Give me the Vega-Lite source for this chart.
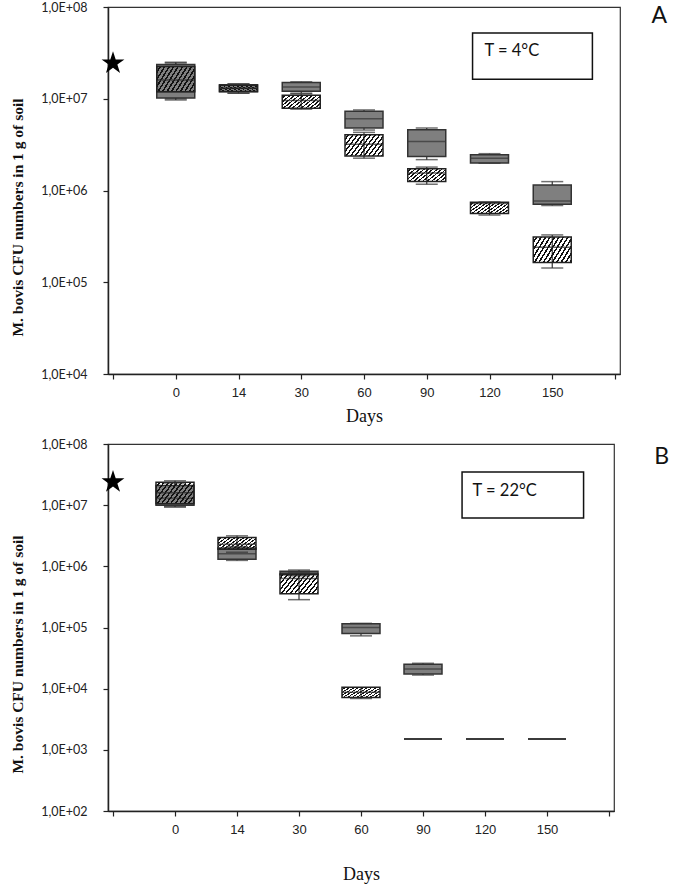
{
  "$schema": "https://vega.github.io/schema/vega-lite/v6.json",
  "padding": {"left": 10, "top": 0, "right": 0, "bottom": 0},
  "background": "white",
  "spacing": 11,
  "config": {
    "view": {"stroke": "#333333", "strokeWidth": 1.2},
    "axis": {"grid": false, "domainColor": "#222222", "domainWidth": 1.5, "tickColor": "#222222", "tickWidth": 1.2, "tickSize": 5, "labelColor": "#222222", "titleColor": "#111111"},
    "axisX": {"labelFont": "Liberation Sans", "labelFontSize": 13, "labelPadding": 7, "titleFont": "Liberation Serif", "titleFontSize": 18, "titleFontWeight": "normal", "titlePadding": 8, "labelFlush": false, "labelOverlap": false},
    "axisY": {"labelFont": "Lato", "labelFontSize": 12.5, "labelPadding": 16, "titleFont": "Liberation Serif", "titleFontSize": 15.5, "titleFontWeight": "bold", "titlePadding": 15, "titleY": 210, "labelOverlap": false}
  },
  "datasets": {
    "boxA": [
      {"pos": 0, "day": "0", "series": "solid", "min": 9700000, "q1": 10200000, "med": 11900000, "q3": 23600000, "max": 25000000},
      {"pos": 0, "day": "0", "series": "hatched", "min": 10000000, "q1": 11900000, "med": 16000000, "q3": 22400000, "max": 24500000},
      {"pos": 1, "day": "14", "series": "solid", "min": 11500000, "q1": 11900000, "med": 13000000, "q3": 14200000, "max": 14500000},
      {"pos": 1, "day": "14", "series": "hatched", "min": 11500000, "q1": 12000000, "med": 13000000, "q3": 14000000, "max": 14500000},
      {"pos": 2, "day": "30", "series": "solid", "min": 11500000, "q1": 12100000, "med": 13400000, "q3": 15000000, "max": 15300000},
      {"pos": 2, "day": "30", "series": "hatched", "min": 7700000, "q1": 7900000, "med": 9600000, "q3": 10900000, "max": 11300000},
      {"pos": 3, "day": "60", "series": "solid", "min": 4560000, "q1": 4800000, "med": 6070000, "q3": 7300000, "max": 7550000},
      {"pos": 3, "day": "60", "series": "hatched", "min": 2250000, "q1": 2370000, "med": 3200000, "q3": 4060000, "max": 4300000},
      {"pos": 4, "day": "90", "series": "solid", "min": 2170000, "q1": 2350000, "med": 3430000, "q3": 4600000, "max": 4800000},
      {"pos": 4, "day": "90", "series": "hatched", "min": 1170000, "q1": 1250000, "med": 1550000, "q3": 1730000, "max": 1800000},
      {"pos": 5, "day": "120", "series": "solid", "min": 1980000, "q1": 2000000, "med": 2250000, "q3": 2450000, "max": 2520000},
      {"pos": 5, "day": "120", "series": "hatched", "min": 540000, "q1": 560000, "med": 720000, "q3": 745000, "max": 750000},
      {"pos": 6, "day": "150", "series": "solid", "min": 686000, "q1": 710000, "med": 770000, "q3": 1150000, "max": 1250000},
      {"pos": 6, "day": "150", "series": "hatched", "min": 143000, "q1": 164000, "med": 240000, "q3": 312000, "max": 328000}
    ],
    "boxB": [
      {"pos": 0, "day": "0", "series": "solid", "min": 9300000, "q1": 10000000, "med": 13000000, "q3": 21000000, "max": 23000000},
      {"pos": 0, "day": "0", "series": "hatched", "min": 9500000, "q1": 10500000, "med": 16000000, "q3": 23600000, "max": 25000000},
      {"pos": 1, "day": "14", "series": "solid", "min": 1250000, "q1": 1300000, "med": 1600000, "q3": 2000000, "max": 2100000},
      {"pos": 1, "day": "14", "series": "hatched", "min": 1700000, "q1": 1900000, "med": 2300000, "q3": 2950000, "max": 3150000},
      {"pos": 2, "day": "30", "series": "solid", "min": 700000, "q1": 730000, "med": 780000, "q3": 830000, "max": 870000},
      {"pos": 2, "day": "30", "series": "hatched", "min": 285000, "q1": 357000, "med": 630000, "q3": 750000, "max": 800000},
      {"pos": 3, "day": "60", "series": "solid", "min": 73000, "q1": 80000, "med": 100000, "q3": 115000, "max": 117000},
      {"pos": 3, "day": "60", "series": "hatched", "min": 6900, "q1": 7200, "med": 8700, "q3": 10500, "max": 10500},
      {"pos": 4, "day": "90", "series": "solid", "min": 16700, "q1": 17400, "med": 21000, "q3": 25000, "max": 26000},
      {"pos": 4, "day": "90", "series": "hatched", "min": 1500, "q1": 1500, "med": 1500, "q3": 1500, "max": 1500},
      {"pos": 5, "day": "120", "series": "hatched", "min": 1500, "q1": 1500, "med": 1500, "q3": 1500, "max": 1500},
      {"pos": 6, "day": "150", "series": "hatched", "min": 1500, "q1": 1500, "med": 1500, "q3": 1500, "max": 1500}
    ]
  },
  "vconcat": [
    {
      "width": 512,
      "height": 367,
      "layer": [
        {
          "data": {"name": "boxA"},
          "mark": {"type": "rule", "color": "#333333", "strokeWidth": 1.2},
          "encoding": {
            "x": {"field": "pos", "type": "quantitative", "scale": {"domain": [-1, 7], "nice": false, "zero": false},
                  "axis": {"title": "Days", "values": [-1, 0, 1, 2, 3, 4, 5, 6, 7], "labelExpr": "datum.value < 0 || datum.value > 6 ? '' : ['0','14','30','60','90','120','150'][datum.value]"}},
            "y": {"field": "min", "type": "quantitative", "scale": {"type": "log", "domain": [10000, 100000000], "nice": false},
                  "axis": {"title": "M. bovis  CFU numbers in 1  g of soil", "values": [10000, 100000, 1000000, 10000000, 100000000], "labelExpr": "'1,0E+0' + round(log(datum.value)/LN10)"}},
            "y2": {"field": "max"}
          }
        },
        {
          "data": {"name": "boxA"},
          "transform": [{"filter": "datum.series == 'solid'"}],
          "mark": {"type": "bar", "width": 38, "fill": "#7f7f7f", "stroke": "#333333", "strokeWidth": 1.5},
          "encoding": {
            "x": {"field": "pos", "type": "quantitative", "scale": {"domain": [-1, 7], "nice": false, "zero": false},
                  "axis": {"title": "Days", "values": [-1, 0, 1, 2, 3, 4, 5, 6, 7], "labelExpr": "datum.value < 0 || datum.value > 6 ? '' : ['0','14','30','60','90','120','150'][datum.value]"}},
            "y": {"field": "q1", "type": "quantitative", "scale": {"type": "log", "domain": [10000, 100000000], "nice": false},
                  "axis": {"title": "M. bovis  CFU numbers in 1  g of soil", "values": [10000, 100000, 1000000, 10000000, 100000000], "labelExpr": "'1,0E+0' + round(log(datum.value)/LN10)"}},
            "y2": {"field": "q3"}
          }
        },
        {
          "data": {"name": "boxA"},
          "transform": [{"filter": "datum.series == 'solid'"}],
          "mark": {"type": "tick", "orient": "horizontal", "size": 38, "thickness": 1.5, "color": "#333333"},
          "encoding": {
            "x": {"field": "pos", "type": "quantitative", "scale": {"domain": [-1, 7], "nice": false, "zero": false},
                  "axis": {"title": "Days", "values": [-1, 0, 1, 2, 3, 4, 5, 6, 7], "labelExpr": "datum.value < 0 || datum.value > 6 ? '' : ['0','14','30','60','90','120','150'][datum.value]"}},
            "y": {"field": "med", "type": "quantitative", "scale": {"type": "log", "domain": [10000, 100000000], "nice": false},
                  "axis": {"title": "M. bovis  CFU numbers in 1  g of soil", "values": [10000, 100000, 1000000, 10000000, 100000000], "labelExpr": "'1,0E+0' + round(log(datum.value)/LN10)"}}
          }
        },
        {
          "data": {"name": "boxA"},
          "transform": [{"filter": "datum.series == 'hatched'"}],
          "mark": {"type": "bar", "width": 38, "stroke": "#222222", "strokeWidth": 1.5,
                   "fill": {"gradient": "linear", "x1": 0, "y1": 0, "x2": 1.2, "y2": 0.5, "stops": [
                     {"offset": 0, "color": "transparent"}, {"offset": 0.05, "color": "transparent"}, {"offset": 0.05, "color": "#111111"}, {"offset": 0.0833, "color": "#111111"},
                     {"offset": 0.0833, "color": "transparent"}, {"offset": 0.1333, "color": "transparent"}, {"offset": 0.1333, "color": "#111111"}, {"offset": 0.1667, "color": "#111111"},
                     {"offset": 0.1667, "color": "transparent"}, {"offset": 0.2167, "color": "transparent"}, {"offset": 0.2167, "color": "#111111"}, {"offset": 0.25, "color": "#111111"},
                     {"offset": 0.25, "color": "transparent"}, {"offset": 0.3, "color": "transparent"}, {"offset": 0.3, "color": "#111111"}, {"offset": 0.3333, "color": "#111111"},
                     {"offset": 0.3333, "color": "transparent"}, {"offset": 0.3833, "color": "transparent"}, {"offset": 0.3833, "color": "#111111"}, {"offset": 0.4167, "color": "#111111"},
                     {"offset": 0.4167, "color": "transparent"}, {"offset": 0.4667, "color": "transparent"}, {"offset": 0.4667, "color": "#111111"}, {"offset": 0.5, "color": "#111111"},
                     {"offset": 0.5, "color": "transparent"}, {"offset": 0.55, "color": "transparent"}, {"offset": 0.55, "color": "#111111"}, {"offset": 0.5833, "color": "#111111"},
                     {"offset": 0.5833, "color": "transparent"}, {"offset": 0.6333, "color": "transparent"}, {"offset": 0.6333, "color": "#111111"}, {"offset": 0.6667, "color": "#111111"},
                     {"offset": 0.6667, "color": "transparent"}, {"offset": 0.7167, "color": "transparent"}, {"offset": 0.7167, "color": "#111111"}, {"offset": 0.75, "color": "#111111"},
                     {"offset": 0.75, "color": "transparent"}, {"offset": 0.8, "color": "transparent"}, {"offset": 0.8, "color": "#111111"}, {"offset": 0.8333, "color": "#111111"},
                     {"offset": 0.8333, "color": "transparent"}, {"offset": 0.8833, "color": "transparent"}, {"offset": 0.8833, "color": "#111111"}, {"offset": 0.9167, "color": "#111111"},
                     {"offset": 0.9167, "color": "transparent"}, {"offset": 0.9667, "color": "transparent"}, {"offset": 0.9667, "color": "#111111"}, {"offset": 1, "color": "#111111"}
                   ]}},
          "encoding": {
            "x": {"field": "pos", "type": "quantitative", "scale": {"domain": [-1, 7], "nice": false, "zero": false},
                  "axis": {"title": "Days", "values": [-1, 0, 1, 2, 3, 4, 5, 6, 7], "labelExpr": "datum.value < 0 || datum.value > 6 ? '' : ['0','14','30','60','90','120','150'][datum.value]"}},
            "y": {"field": "q1", "type": "quantitative", "scale": {"type": "log", "domain": [10000, 100000000], "nice": false},
                  "axis": {"title": "M. bovis  CFU numbers in 1  g of soil", "values": [10000, 100000, 1000000, 10000000, 100000000], "labelExpr": "'1,0E+0' + round(log(datum.value)/LN10)"}},
            "y2": {"field": "q3"}
          }
        },
        {
          "data": {"name": "boxA"},
          "transform": [{"filter": "datum.series == 'hatched'"}],
          "mark": {"type": "tick", "orient": "horizontal", "size": 38, "thickness": 1.5, "color": "#222222"},
          "encoding": {
            "x": {"field": "pos", "type": "quantitative", "scale": {"domain": [-1, 7], "nice": false, "zero": false},
                  "axis": {"title": "Days", "values": [-1, 0, 1, 2, 3, 4, 5, 6, 7], "labelExpr": "datum.value < 0 || datum.value > 6 ? '' : ['0','14','30','60','90','120','150'][datum.value]"}},
            "y": {"field": "med", "type": "quantitative", "scale": {"type": "log", "domain": [10000, 100000000], "nice": false},
                  "axis": {"title": "M. bovis  CFU numbers in 1  g of soil", "values": [10000, 100000, 1000000, 10000000, 100000000], "labelExpr": "'1,0E+0' + round(log(datum.value)/LN10)"}}
          }
        },
        {
          "data": {"name": "boxA"},
          "mark": {"type": "tick", "orient": "horizontal", "size": 22, "thickness": 1.5, "color": "#333333"},
          "encoding": {
            "x": {"field": "pos", "type": "quantitative", "scale": {"domain": [-1, 7], "nice": false, "zero": false},
                  "axis": {"title": "Days", "values": [-1, 0, 1, 2, 3, 4, 5, 6, 7], "labelExpr": "datum.value < 0 || datum.value > 6 ? '' : ['0','14','30','60','90','120','150'][datum.value]"}},
            "y": {"field": "min", "type": "quantitative", "scale": {"type": "log", "domain": [10000, 100000000], "nice": false},
                  "axis": {"title": "M. bovis  CFU numbers in 1  g of soil", "values": [10000, 100000, 1000000, 10000000, 100000000], "labelExpr": "'1,0E+0' + round(log(datum.value)/LN10)"}}
          }
        },
        {
          "data": {"name": "boxA"},
          "mark": {"type": "tick", "orient": "horizontal", "size": 22, "thickness": 1.5, "color": "#333333"},
          "encoding": {
            "x": {"field": "pos", "type": "quantitative", "scale": {"domain": [-1, 7], "nice": false, "zero": false},
                  "axis": {"title": "Days", "values": [-1, 0, 1, 2, 3, 4, 5, 6, 7], "labelExpr": "datum.value < 0 || datum.value > 6 ? '' : ['0','14','30','60','90','120','150'][datum.value]"}},
            "y": {"field": "max", "type": "quantitative", "scale": {"type": "log", "domain": [10000, 100000000], "nice": false},
                  "axis": {"title": "M. bovis  CFU numbers in 1  g of soil", "values": [10000, 100000, 1000000, 10000000, 100000000], "labelExpr": "'1,0E+0' + round(log(datum.value)/LN10)"}}
          }
        },
        {
          "data": {"values": [{"pos": -1, "value": 24400000}]},
          "mark": {"type": "point", "shape": "M0,-1L0.2245,-0.309L0.9511,-0.309L0.3633,0.118L0.5878,0.809L0,0.382L-0.5878,0.809L-0.3633,0.118L-0.9511,-0.309L-0.2245,-0.309Z", "filled": true, "color": "#000000", "opacity": 1, "size": 576},
          "encoding": {
            "x": {"field": "pos", "type": "quantitative", "scale": {"domain": [-1, 7], "nice": false, "zero": false},
                  "axis": {"title": "Days", "values": [-1, 0, 1, 2, 3, 4, 5, 6, 7], "labelExpr": "datum.value < 0 || datum.value > 6 ? '' : ['0','14','30','60','90','120','150'][datum.value]"}},
            "y": {"field": "value", "type": "quantitative", "scale": {"type": "log", "domain": [10000, 100000000], "nice": false},
                  "axis": {"title": "M. bovis  CFU numbers in 1  g of soil", "values": [10000, 100000, 1000000, 10000000, 100000000], "labelExpr": "'1,0E+0' + round(log(datum.value)/LN10)"}}
          }
        },
        {
          "data": {"values": [{"pos": 4.73, "pos2": 6.64, "value": 52000000, "value2": 16300000}]},
          "mark": {"type": "rect", "fill": "white", "stroke": "#111111", "strokeWidth": 1.5},
          "encoding": {
            "x": {"field": "pos", "type": "quantitative", "scale": {"domain": [-1, 7], "nice": false, "zero": false},
                  "axis": {"title": "Days", "values": [-1, 0, 1, 2, 3, 4, 5, 6, 7], "labelExpr": "datum.value < 0 || datum.value > 6 ? '' : ['0','14','30','60','90','120','150'][datum.value]"}},
            "x2": {"field": "pos2"},
            "y": {"field": "value", "type": "quantitative", "scale": {"type": "log", "domain": [10000, 100000000], "nice": false},
                  "axis": {"title": "M. bovis  CFU numbers in 1  g of soil", "values": [10000, 100000, 1000000, 10000000, 100000000], "labelExpr": "'1,0E+0' + round(log(datum.value)/LN10)"}},
            "y2": {"field": "value2"}
          }
        },
        {
          "data": {"values": [{"pos": 4.92, "value": 33000000, "label": "T = 4°C"}, {"pos": 7.58, "value": 79800000, "label": "A"}]},
          "mark": {"type": "text", "align": "left", "baseline": "middle", "font": "Lato", "color": "#111111"},
          "encoding": {
            "x": {"field": "pos", "type": "quantitative", "scale": {"domain": [-1, 7], "nice": false, "zero": false},
                  "axis": {"title": "Days", "values": [-1, 0, 1, 2, 3, 4, 5, 6, 7], "labelExpr": "datum.value < 0 || datum.value > 6 ? '' : ['0','14','30','60','90','120','150'][datum.value]"}},
            "y": {"field": "value", "type": "quantitative", "scale": {"type": "log", "domain": [10000, 100000000], "nice": false},
                  "axis": {"title": "M. bovis  CFU numbers in 1  g of soil", "values": [10000, 100000, 1000000, 10000000, 100000000], "labelExpr": "'1,0E+0' + round(log(datum.value)/LN10)"}},
            "text": {"field": "label"},
            "size": {"condition": {"test": "datum.label == 'A'", "value": 23}, "value": 16.5},
            "align": {"condition": {"test": "datum.label == 'A'", "value": "center"}, "value": "left"}
          }
        }
      ]
    },
    {
      "width": 506,
      "height": 367,
      "layer": [
        {
          "data": {"name": "boxB"},
          "mark": {"type": "rule", "color": "#333333", "strokeWidth": 1.2},
          "encoding": {
            "x": {"field": "pos", "type": "quantitative", "scale": {"domain": [-1, 7], "nice": false, "zero": false},
                  "axis": {"title": "Days", "titlePadding": 29, "values": [-1, 0, 1, 2, 3, 4, 5, 6, 7], "labelExpr": "datum.value < 0 || datum.value > 6 ? '' : ['0','14','30','60','90','120','150'][datum.value]"}},
            "y": {"field": "min", "type": "quantitative", "scale": {"type": "log", "domain": [100, 100000000], "nice": false},
                  "axis": {"title": "M. bovis  CFU numbers in 1  g of soil", "values": [100, 1000, 10000, 100000, 1000000, 10000000, 100000000], "labelExpr": "'1,0E+0' + round(log(datum.value)/LN10)"}},
            "y2": {"field": "max"}
          }
        },
        {
          "data": {"name": "boxB"},
          "transform": [{"filter": "datum.series == 'solid'"}],
          "mark": {"type": "bar", "width": 38, "fill": "#7f7f7f", "stroke": "#333333", "strokeWidth": 1.5},
          "encoding": {
            "x": {"field": "pos", "type": "quantitative", "scale": {"domain": [-1, 7], "nice": false, "zero": false},
                  "axis": {"title": "Days", "titlePadding": 29, "values": [-1, 0, 1, 2, 3, 4, 5, 6, 7], "labelExpr": "datum.value < 0 || datum.value > 6 ? '' : ['0','14','30','60','90','120','150'][datum.value]"}},
            "y": {"field": "q1", "type": "quantitative", "scale": {"type": "log", "domain": [100, 100000000], "nice": false},
                  "axis": {"title": "M. bovis  CFU numbers in 1  g of soil", "values": [100, 1000, 10000, 100000, 1000000, 10000000, 100000000], "labelExpr": "'1,0E+0' + round(log(datum.value)/LN10)"}},
            "y2": {"field": "q3"}
          }
        },
        {
          "data": {"name": "boxB"},
          "transform": [{"filter": "datum.series == 'solid'"}],
          "mark": {"type": "tick", "orient": "horizontal", "size": 38, "thickness": 1.5, "color": "#333333"},
          "encoding": {
            "x": {"field": "pos", "type": "quantitative", "scale": {"domain": [-1, 7], "nice": false, "zero": false},
                  "axis": {"title": "Days", "titlePadding": 29, "values": [-1, 0, 1, 2, 3, 4, 5, 6, 7], "labelExpr": "datum.value < 0 || datum.value > 6 ? '' : ['0','14','30','60','90','120','150'][datum.value]"}},
            "y": {"field": "med", "type": "quantitative", "scale": {"type": "log", "domain": [100, 100000000], "nice": false},
                  "axis": {"title": "M. bovis  CFU numbers in 1  g of soil", "values": [100, 1000, 10000, 100000, 1000000, 10000000, 100000000], "labelExpr": "'1,0E+0' + round(log(datum.value)/LN10)"}}
          }
        },
        {
          "data": {"name": "boxB"},
          "transform": [{"filter": "datum.series == 'hatched'"}],
          "mark": {"type": "bar", "width": 38, "stroke": "#222222", "strokeWidth": 1.5,
                   "fill": {"gradient": "linear", "x1": 0, "y1": 0, "x2": 1.2, "y2": 0.5, "stops": [
                     {"offset": 0, "color": "transparent"}, {"offset": 0.05, "color": "transparent"}, {"offset": 0.05, "color": "#111111"}, {"offset": 0.0833, "color": "#111111"},
                     {"offset": 0.0833, "color": "transparent"}, {"offset": 0.1333, "color": "transparent"}, {"offset": 0.1333, "color": "#111111"}, {"offset": 0.1667, "color": "#111111"},
                     {"offset": 0.1667, "color": "transparent"}, {"offset": 0.2167, "color": "transparent"}, {"offset": 0.2167, "color": "#111111"}, {"offset": 0.25, "color": "#111111"},
                     {"offset": 0.25, "color": "transparent"}, {"offset": 0.3, "color": "transparent"}, {"offset": 0.3, "color": "#111111"}, {"offset": 0.3333, "color": "#111111"},
                     {"offset": 0.3333, "color": "transparent"}, {"offset": 0.3833, "color": "transparent"}, {"offset": 0.3833, "color": "#111111"}, {"offset": 0.4167, "color": "#111111"},
                     {"offset": 0.4167, "color": "transparent"}, {"offset": 0.4667, "color": "transparent"}, {"offset": 0.4667, "color": "#111111"}, {"offset": 0.5, "color": "#111111"},
                     {"offset": 0.5, "color": "transparent"}, {"offset": 0.55, "color": "transparent"}, {"offset": 0.55, "color": "#111111"}, {"offset": 0.5833, "color": "#111111"},
                     {"offset": 0.5833, "color": "transparent"}, {"offset": 0.6333, "color": "transparent"}, {"offset": 0.6333, "color": "#111111"}, {"offset": 0.6667, "color": "#111111"},
                     {"offset": 0.6667, "color": "transparent"}, {"offset": 0.7167, "color": "transparent"}, {"offset": 0.7167, "color": "#111111"}, {"offset": 0.75, "color": "#111111"},
                     {"offset": 0.75, "color": "transparent"}, {"offset": 0.8, "color": "transparent"}, {"offset": 0.8, "color": "#111111"}, {"offset": 0.8333, "color": "#111111"},
                     {"offset": 0.8333, "color": "transparent"}, {"offset": 0.8833, "color": "transparent"}, {"offset": 0.8833, "color": "#111111"}, {"offset": 0.9167, "color": "#111111"},
                     {"offset": 0.9167, "color": "transparent"}, {"offset": 0.9667, "color": "transparent"}, {"offset": 0.9667, "color": "#111111"}, {"offset": 1, "color": "#111111"}
                   ]}},
          "encoding": {
            "x": {"field": "pos", "type": "quantitative", "scale": {"domain": [-1, 7], "nice": false, "zero": false},
                  "axis": {"title": "Days", "titlePadding": 29, "values": [-1, 0, 1, 2, 3, 4, 5, 6, 7], "labelExpr": "datum.value < 0 || datum.value > 6 ? '' : ['0','14','30','60','90','120','150'][datum.value]"}},
            "y": {"field": "q1", "type": "quantitative", "scale": {"type": "log", "domain": [100, 100000000], "nice": false},
                  "axis": {"title": "M. bovis  CFU numbers in 1  g of soil", "values": [100, 1000, 10000, 100000, 1000000, 10000000, 100000000], "labelExpr": "'1,0E+0' + round(log(datum.value)/LN10)"}},
            "y2": {"field": "q3"}
          }
        },
        {
          "data": {"name": "boxB"},
          "transform": [{"filter": "datum.series == 'hatched'"}],
          "mark": {"type": "tick", "orient": "horizontal", "size": 38, "thickness": 1.5, "color": "#222222"},
          "encoding": {
            "x": {"field": "pos", "type": "quantitative", "scale": {"domain": [-1, 7], "nice": false, "zero": false},
                  "axis": {"title": "Days", "titlePadding": 29, "values": [-1, 0, 1, 2, 3, 4, 5, 6, 7], "labelExpr": "datum.value < 0 || datum.value > 6 ? '' : ['0','14','30','60','90','120','150'][datum.value]"}},
            "y": {"field": "med", "type": "quantitative", "scale": {"type": "log", "domain": [100, 100000000], "nice": false},
                  "axis": {"title": "M. bovis  CFU numbers in 1  g of soil", "values": [100, 1000, 10000, 100000, 1000000, 10000000, 100000000], "labelExpr": "'1,0E+0' + round(log(datum.value)/LN10)"}}
          }
        },
        {
          "data": {"name": "boxB"},
          "transform": [{"filter": "datum.q1 > datum.min"}],
          "mark": {"type": "tick", "orient": "horizontal", "size": 22, "thickness": 1.5, "color": "#333333"},
          "encoding": {
            "x": {"field": "pos", "type": "quantitative", "scale": {"domain": [-1, 7], "nice": false, "zero": false},
                  "axis": {"title": "Days", "titlePadding": 29, "values": [-1, 0, 1, 2, 3, 4, 5, 6, 7], "labelExpr": "datum.value < 0 || datum.value > 6 ? '' : ['0','14','30','60','90','120','150'][datum.value]"}},
            "y": {"field": "min", "type": "quantitative", "scale": {"type": "log", "domain": [100, 100000000], "nice": false},
                  "axis": {"title": "M. bovis  CFU numbers in 1  g of soil", "values": [100, 1000, 10000, 100000, 1000000, 10000000, 100000000], "labelExpr": "'1,0E+0' + round(log(datum.value)/LN10)"}}
          }
        },
        {
          "data": {"name": "boxB"},
          "transform": [{"filter": "datum.q3 < datum.max"}],
          "mark": {"type": "tick", "orient": "horizontal", "size": 22, "thickness": 1.5, "color": "#333333"},
          "encoding": {
            "x": {"field": "pos", "type": "quantitative", "scale": {"domain": [-1, 7], "nice": false, "zero": false},
                  "axis": {"title": "Days", "titlePadding": 29, "values": [-1, 0, 1, 2, 3, 4, 5, 6, 7], "labelExpr": "datum.value < 0 || datum.value > 6 ? '' : ['0','14','30','60','90','120','150'][datum.value]"}},
            "y": {"field": "max", "type": "quantitative", "scale": {"type": "log", "domain": [100, 100000000], "nice": false},
                  "axis": {"title": "M. bovis  CFU numbers in 1  g of soil", "values": [100, 1000, 10000, 100000, 1000000, 10000000, 100000000], "labelExpr": "'1,0E+0' + round(log(datum.value)/LN10)"}}
          }
        },
        {
          "data": {"values": [{"pos": -1, "value": 23900000}]},
          "mark": {"type": "point", "shape": "M0,-1L0.2245,-0.309L0.9511,-0.309L0.3633,0.118L0.5878,0.809L0,0.382L-0.5878,0.809L-0.3633,0.118L-0.9511,-0.309L-0.2245,-0.309Z", "filled": true, "color": "#000000", "opacity": 1, "size": 576},
          "encoding": {
            "x": {"field": "pos", "type": "quantitative", "scale": {"domain": [-1, 7], "nice": false, "zero": false},
                  "axis": {"title": "Days", "titlePadding": 29, "values": [-1, 0, 1, 2, 3, 4, 5, 6, 7], "labelExpr": "datum.value < 0 || datum.value > 6 ? '' : ['0','14','30','60','90','120','150'][datum.value]"}},
            "y": {"field": "value", "type": "quantitative", "scale": {"type": "log", "domain": [100, 100000000], "nice": false},
                  "axis": {"title": "M. bovis  CFU numbers in 1  g of soil", "values": [100, 1000, 10000, 100000, 1000000, 10000000, 100000000], "labelExpr": "'1,0E+0' + round(log(datum.value)/LN10)"}}
          }
        },
        {
          "data": {"values": [{"pos": 4.63, "pos2": 6.59, "value": 34800000, "value2": 6170000}]},
          "mark": {"type": "rect", "fill": "white", "stroke": "#111111", "strokeWidth": 1.5},
          "encoding": {
            "x": {"field": "pos", "type": "quantitative", "scale": {"domain": [-1, 7], "nice": false, "zero": false},
                  "axis": {"title": "Days", "titlePadding": 29, "values": [-1, 0, 1, 2, 3, 4, 5, 6, 7], "labelExpr": "datum.value < 0 || datum.value > 6 ? '' : ['0','14','30','60','90','120','150'][datum.value]"}},
            "x2": {"field": "pos2"},
            "y": {"field": "value", "type": "quantitative", "scale": {"type": "log", "domain": [100, 100000000], "nice": false},
                  "axis": {"title": "M. bovis  CFU numbers in 1  g of soil", "values": [100, 1000, 10000, 100000, 1000000, 10000000, 100000000], "labelExpr": "'1,0E+0' + round(log(datum.value)/LN10)"}},
            "y2": {"field": "value2"}
          }
        },
        {
          "data": {"values": [{"pos": 4.8, "value": 17000000, "label": "T = 22°C"}, {"pos": 7.73, "value": 61200000, "label": "B"}]},
          "mark": {"type": "text", "align": "left", "baseline": "middle", "font": "Lato", "color": "#111111"},
          "encoding": {
            "x": {"field": "pos", "type": "quantitative", "scale": {"domain": [-1, 7], "nice": false, "zero": false},
                  "axis": {"title": "Days", "titlePadding": 29, "values": [-1, 0, 1, 2, 3, 4, 5, 6, 7], "labelExpr": "datum.value < 0 || datum.value > 6 ? '' : ['0','14','30','60','90','120','150'][datum.value]"}},
            "y": {"field": "value", "type": "quantitative", "scale": {"type": "log", "domain": [100, 100000000], "nice": false},
                  "axis": {"title": "M. bovis  CFU numbers in 1  g of soil", "values": [100, 1000, 10000, 100000, 1000000, 10000000, 100000000], "labelExpr": "'1,0E+0' + round(log(datum.value)/LN10)"}},
            "text": {"field": "label"},
            "size": {"condition": {"test": "datum.label == 'B'", "value": 23}, "value": 16.5},
            "align": {"condition": {"test": "datum.label == 'B'", "value": "center"}, "value": "left"}
          }
        }
      ]
    }
  ]
}
